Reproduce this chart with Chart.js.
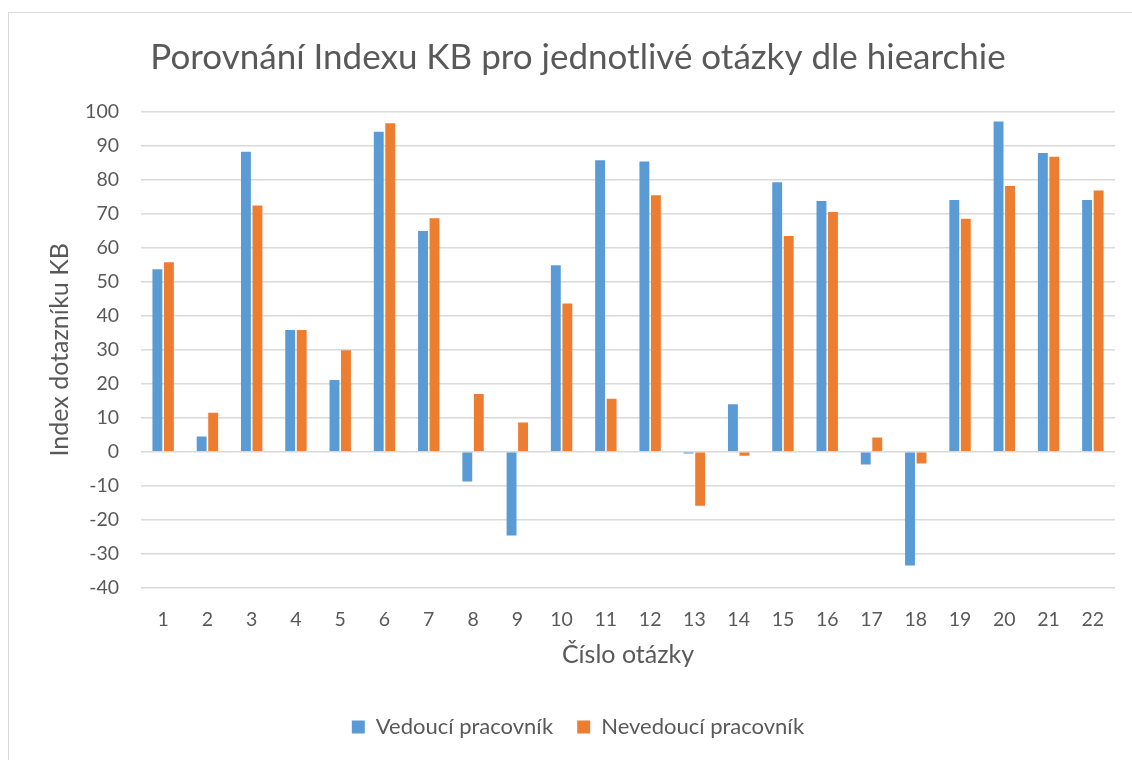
<!DOCTYPE html>
<html lang="cs">
<head>
<meta charset="utf-8">
<title>Porovnání Indexu KB</title>
<script src="https://cdn.jsdelivr.net/npm/chart.js@4/dist/chart.umd.min.js"></script>
<style>
  html, body { margin: 0; padding: 0; background: #fff; overflow: hidden; }
  #ramec {
    position: absolute; left: 8px; top: 12px;
    width: 1124px; height: 748px;
    border-left: 1px solid #d9d9d9; border-top: 1px solid #d9d9d9;
    box-sizing: border-box;
  }
  #graf { display: block; }
</style>
</head>
<body>
<div id="ramec"><canvas id="graf" width="1112" height="735"></canvas></div>
<script>
// === DATA GRAFU ===
const otazky = ['1','2','3','4','5','6','7','8','9','10','11','12','13','14','15','16','17','18','19','20','21','22'];
const vedouci = [53.7, 4.5, 88.3, 35.8, 21.1, 94.2, 65.0, -8.8, -24.7, 54.9, 85.8, 85.4, -0.5, 14.0, 79.3, 73.8, -3.8, -33.5, 74.1, 97.2, 87.9, 74.1];
const nevedouci = [55.8, 11.5, 72.5, 35.8, 29.9, 96.7, 68.7, 17.0, 8.6, 43.6, 15.6, 75.5, -15.9, -1.2, 63.5, 70.6, 4.2, -3.5, 68.6, 78.2, 86.8, 76.9];
const osaY = { min: -40, max: 100, krok: 10 };

const pismo = 'Lato, "Open Sans", sans-serif';
const seda = '#595959';

const ctx = document.getElementById('graf').getContext('2d');

new Chart(ctx, {
    type: 'bar',
    data: {
        labels: otazky,
        datasets: [{
            label: 'Vedoucí pracovník',
            data: vedouci,
            backgroundColor: '#5b9bd5',
            borderWidth: 0
        }, {
            label: 'Nevedoucí pracovník',
            data: nevedouci,
            backgroundColor: '#ed7d31',
            borderWidth: 0
        }]
    },
    options: {
        responsive: false,
        animation: false,
        categoryPercentage: 0.52,
        barPercentage: 0.86,
        layout: { padding: { left: 32, right: 6, top: 10, bottom: 0 } },
        plugins: {
            title: {
                display: true,
                text: 'Porovnání Indexu KB pro jednotlivé otázky dle hiearchie',
                color: seda,
                font: { family: pismo, size: 35, weight: 'normal' },
                padding: { top: 14, bottom: 33 }
            },
            legend: {
                position: 'bottom',
                labels: {
                    color: seda,
                    font: { family: pismo, size: 22 },
                    boxWidth: 13, boxHeight: 13,
                    padding: 24
                }
            },
            tooltip: { enabled: false }
        },
        scales: {
            x: {
                grid: { display: false },
                border: { display: false },
                // doladění výšky osy X, aby spodní okraj grafu seděl na -40
                afterFit: (osa) => { osa.height -= 3; },
                ticks: { color: seda, font: { family: pismo, size: 19.5 }, padding: 12 },
                title: {
                    display: true, text: 'Číslo otázky', color: seda,
                    font: { family: pismo, size: 25 }, padding: { top: 0, bottom: 22 }
                }
            },
            y: {
                min: osaY.min, max: osaY.max,
                afterFit: (osa) => { osa.width = 100; },
                ticks: {
                    stepSize: osaY.krok, color: seda,
                    font: { family: pismo, size: 19.5 }, padding: 22
                },
                grid: { color: '#d9d9d9', lineWidth: 1.5, drawTicks: false },
                border: { display: false },
                title: {
                    display: true, text: 'Index dotazníku KB', color: seda,
                    font: { family: pismo, size: 25 }, padding: { top: 4, bottom: 4 }
                }
            }
        }
    }
});
</script>
</body>
</html>
